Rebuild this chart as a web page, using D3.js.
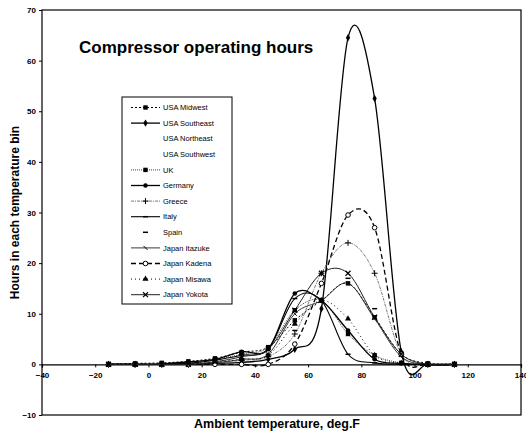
<!DOCTYPE html>
<html>
<head>
<meta charset="utf-8">
<script src="https://cdn.jsdelivr.net/npm/d3@7"></script>
<style>
  body { margin: 0; background: #fff; }
  text { font-family: Arial, "Liberation Sans", sans-serif; }
</style>
</head>
<body>
<svg id="chartSvg" width="526" height="443"></svg>
<script>
        const bins = [-15, -5, 5, 15, 25, 35, 45, 55, 65, 75, 85, 95, 105, 115];

        const usaMidwest    = [0.1, 0.2, 0.3, 0.6, 1.2, 2.4, 3.4, 8.7, 12.6, 16, 9.3, 2, 0.2, 0.1];
        const usaSoutheast  = [0, 0, 0, 0, 0.2, 0.4, 1, 3, 11, 64.5, 52.5, 2.5, 0, 0];
        const usaNortheast  = [0, 0, 0.2, 0.8, 1.5, 2.5, 4, 8, 11, 9, 4, 0.5, 0, 0];
        const usaSouthwest  = [0, 0, 0, 0.2, 0.5, 1.5, 3, 6, 10, 12, 10, 5, 1, 0];
        const uk            = [0, 0, 0, 0.3, 1, 2, 3.4, 10.7, 12.6, 6, 1.8, 0.3, 0, 0];
        const germany       = [0, 0, 0.1, 0.5, 1, 2.5, 3, 14, 12.6, 6.7, 1, 0.2, 0, 0];
        const greece        = [0, 0, 0, 0, 0.2, 0.8, 1.5, 6, 18, 24, 18, 2, 0, 0];
        const italy         = [0, 0, 0, 0.2, 0.8, 1.8, 3, 13, 12.6, 2, 0.3, 0, 0, 0];
        const spain         = [0, 0, 0, 0.1, 0.5, 1, 2, 6.7, 13, 17, 11, 2, 0.1, 0];
        const japanItazuke  = [0, 0, 0, 0, 0.3, 1, 2, 10, 12.6, 16, 9, 1.5, 0, 0];
        const japanKadena   = [0, 0, 0, 0, 0, 0, 0, 4, 16, 29.5, 27, 2, 0, 0];
        const japanMisawa   = [0, 0, 0, 0.2, 0.5, 1, 1.8, 8, 12.6, 9, 1.8, 0.2, 0, 0];
        const japanYokota   = [0, 0, 0, 0, 0.5, 1.5, 3, 10.7, 18, 18, 9.3, 2, 0, 0];

        const xTicks = [-40, -20, 0, 20, 40, 60, 80, 100, 120, 140];
        const yTicks = [-10, 0, 10, 20, 30, 40, 50, 60, 70];

        // name, values, line style, marker
        const series = [
            { name: 'USA Midwest',   values: usaMidwest,   stroke: '#000', width: 1,   dash: '2,2', marker: 'square' },
            { name: 'USA Southeast', values: usaSoutheast, stroke: '#000', width: 1.3, dash: null,  marker: 'diamond' },
            { name: 'USA Northeast', values: usaNortheast, stroke: '#fff', width: 0,   dash: null,  marker: null },
            { name: 'USA Southwest', values: usaSouthwest, stroke: '#fff', width: 0,   dash: null,  marker: null },
            { name: 'UK',            values: uk,           stroke: '#444', width: 1,   dash: '1,1', marker: 'square' },
            { name: 'Germany',       values: germany,      stroke: '#000', width: 1.3, dash: null,  marker: 'circle' },
            { name: 'Greece',        values: greece,       stroke: '#555', width: 0.8, dash: '3,1,1,1', marker: 'plus' },
            { name: 'Italy',         values: italy,        stroke: '#000', width: 1.1, dash: null,  marker: 'dash' },
            { name: 'Spain',         values: spain,        stroke: 'none', width: 0,   dash: null,  marker: 'dash' },
            { name: 'Japan Itazuke', values: japanItazuke, stroke: '#222', width: 0.9, dash: null,  marker: 'tick' },
            { name: 'Japan Kadena',  values: japanKadena,  stroke: '#000', width: 1.3, dash: '5,3', marker: 'open' },
            { name: 'Japan Misawa',  values: japanMisawa,  stroke: '#000', width: 1,   dash: '1,3', marker: 'triangle' },
            { name: 'Japan Yokota',  values: japanYokota,  stroke: '#222', width: 1,   dash: null,  marker: 'star' }
        ];

        const svg = d3.select('#chartSvg');
        const margin = { top: 10, left: 42, right: 5, bottom: 28 };
        const innerWidth = 526 - margin.left - margin.right;
        const innerHeight = 443 - margin.top - margin.bottom;

        const xScale = d3.scaleLinear().domain([-40, 140]).range([0, innerWidth]);
        const yScale = d3.scaleLinear().domain([-10, 70]).range([innerHeight, 0]);

        const g = svg.append('g')
            .attr('transform', 'translate(' + margin.left + ',' + margin.top + ')');

        // frame
        g.append('rect')
            .attr('width', innerWidth).attr('height', innerHeight)
            .attr('fill', 'none').attr('stroke', '#000').attr('stroke-width', 1.2);

        // x axis sits on y = 0
        const xAxis = d3.axisBottom(xScale).tickValues(xTicks).tickSize(3).tickFormat(d3.format('d'));
        const gx = g.append('g').attr('transform', 'translate(0,' + yScale(0) + ')').call(xAxis);
        gx.select('.domain').attr('stroke-width', 1.2);
        gx.selectAll('text').style('font-size', '8px').style('font-weight', 'bold').attr('dy', '0.9em');

        const yAxis = d3.axisLeft(yScale).tickValues(yTicks).tickSize(3);
        const gy = g.append('g').call(yAxis);
        gy.select('.domain').remove();
        gy.selectAll('text').style('font-size', '8px').style('font-weight', 'bold').attr('x', -6);

        // lines
        const line = d3.line()
            .x((d, i) => xScale(bins[i]))
            .y(d => yScale(d))
            .curve(d3.curveCardinal.tension(0));

        function drawMarker(sel, type, x, y) {
            if (type === 'square') {
                sel.append('rect').attr('x', x - 2.2).attr('y', y - 2.2).attr('width', 4.4).attr('height', 4.4).attr('fill', '#000');
            } else if (type === 'diamond') {
                sel.append('path').attr('d', d3.symbol(d3.symbolDiamond, 16)()).attr('transform', `translate(${x},${y})`).attr('fill', '#000');
            } else if (type === 'circle') {
                sel.append('circle').attr('cx', x).attr('cy', y).attr('r', 2.3).attr('fill', '#000');
            } else if (type === 'open') {
                sel.append('circle').attr('cx', x).attr('cy', y).attr('r', 2.3).attr('fill', '#fff').attr('stroke', '#000').attr('stroke-width', 1);
            } else if (type === 'triangle') {
                sel.append('path').attr('d', d3.symbol(d3.symbolTriangle, 16)()).attr('transform', `translate(${x},${y})`).attr('fill', '#000');
            } else if (type === 'plus') {
                sel.append('path').attr('d', `M${x - 3},${y}H${x + 3}M${x},${y - 3}V${y + 3}`).attr('stroke', '#000').attr('stroke-width', 1);
            } else if (type === 'dash') {
                sel.append('path').attr('d', `M${x - 2.5},${y}H${x + 2.5}`).attr('stroke', '#000').attr('stroke-width', 1.5);
            } else if (type === 'tick') {
                sel.append('path').attr('d', `M${x - 2},${y - 2}L${x + 2},${y + 2}`).attr('stroke', '#000').attr('stroke-width', 1);
            } else if (type === 'star') {
                sel.append('path').attr('d', d3.symbol(d3.symbolTimes, 18)()).attr('transform', `translate(${x},${y})`)
                    .attr('fill', 'none').attr('stroke', '#000').attr('stroke-width', 1.2);
            }
        }

        series.forEach(s => {
            if (s.width > 0 && s.stroke !== 'none') {
                g.append('path')
                    .datum(s.values)
                    .attr('d', line)
                    .attr('fill', 'none')
                    .attr('stroke', s.stroke)
                    .attr('stroke-width', s.width)
                    .attr('stroke-dasharray', s.dash);
            }
            if (s.marker) {
                const mg = g.append('g');
                s.values.forEach((v, i) => drawMarker(mg, s.marker, xScale(bins[i]), yScale(v)));
            }
        });

        // title
        g.append('text')
            .attr('x', 37).attr('y', 43)
            .style('font-size', '17px').style('font-weight', 'bold')
            .text('Compressor operating hours');

        // legend
        const legend = g.append('g').attr('transform', 'translate(80,87)');
        legend.append('rect')
            .attr('width', 110).attr('height', 207)
            .attr('fill', '#fff').attr('stroke', '#000').attr('stroke-width', 1);
        series.forEach((s, i) => {
            const ly = 10.5 + i * 15.6;
            const row = legend.append('g');
            if (s.width > 0 && s.stroke !== 'none') {
                row.append('line').attr('x1', 9).attr('x2', 38).attr('y1', ly).attr('y2', ly)
                    .attr('stroke', s.stroke).attr('stroke-width', s.width).attr('stroke-dasharray', s.dash);
            }
            if (s.marker) drawMarker(row, s.marker, 23.5, ly);
            row.append('text').attr('x', 41).attr('y', ly).attr('dy', '0.35em')
                .style('font-size', '7.5px').attr('fill', '#000').text(s.name);
        });

        // axis labels
        svg.append('text')
            .attr('text-anchor', 'middle')
            .attr('transform', 'translate(19,' + (margin.top + innerHeight / 2) + ') rotate(-90)')
            .style('font-size', '12px').style('font-weight', 'bold')
            .text('Hours in each temperature bin');

        svg.append('text')
            .attr('text-anchor', 'middle')
            .attr('x', 277).attr('y', 428)
            .style('font-size', '12.5px').style('font-weight', 'bold')
            .text('Ambient temperature, deg.F');
</script>
</body>
</html>
